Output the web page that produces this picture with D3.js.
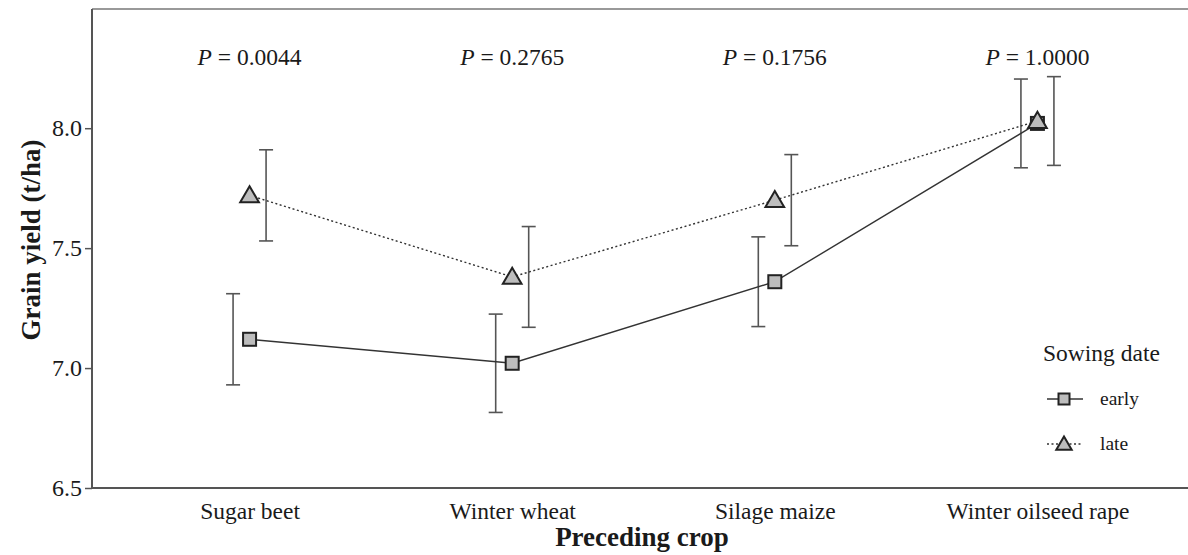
<!DOCTYPE html>
<html>
<head>
<meta charset="utf-8">
<script src="https://cdn.jsdelivr.net/npm/d3@7"></script>
<style>
  body { margin: 0; background: white; }
  svg text { font-family: "Liberation Serif", "DejaVu Serif", serif; fill: #1a1a1a; }
</style>
</head>
<body>
<svg id="chart" width="1188" height="555"></svg>
<script>

// The data:
var crops = ["Sugar beet", "Winter wheat", "Silage maize", "Winter oilseed rape"];
var pValues = ["0.0044", "0.2765", "0.1756", "1.0000"];
var earlyMeans = [7.12, 7.02, 7.36, 8.02];
var earlyErr = [0.19, 0.205, 0.187, 0.185];
var lateMeans = [7.72, 7.38, 7.70, 8.03];
var lateErr = [0.19, 0.21, 0.19, 0.185];
var yTicks = [6.5, 7.0, 7.5, 8.0];

var svg = d3.select("#chart");

var margin = { left: 92, top: 9, bottom: 488, right: 1195 };

var x = d3.scalePoint()
  .domain(crops)
  .range([margin.left, margin.right])
  .padding(0.6);

var y = d3.scaleLinear()
  .domain([6.5, 8.497])
  .range([margin.bottom, margin.top]);

// Both series, the error bars being dodged a little to each side:
var series = [
  { name: "early", means: earlyMeans, err: earlyErr, dodge: -16.5, dash: null, shape: "square" },
  { name: "late", means: lateMeans, err: lateErr, dodge: 16.5, dash: "2,2.5", shape: "triangle" }
];

var lineColor = "#333";
var barColor = "#555";
var fontSize = 23.5;

// Panel frame (left, top and bottom only, the right side is cut off):
svg.append("line")
  .attr("x1", margin.left).attr("x2", 1188)
  .attr("y1", margin.top).attr("y2", margin.top)
  .attr("stroke", "#777").attr("stroke-width", 1.6);

// Y axis with its ticks:
var yAxis = svg.append("g")
  .attr("transform", "translate(" + margin.left + ",0)")
  .call(d3.axisLeft(y).tickValues(yTicks).tickFormat(d3.format(".1f")).tickSize(7).tickSizeOuter(0));
yAxis.select(".domain").remove();
yAxis.selectAll(".tick line").attr("stroke", "#555").attr("stroke-width", 1.5);
yAxis.selectAll(".tick text")
  .attr("x", -10)
  .attr("font-size", 24)
  .attr("font-family", "Liberation Serif")
  .attr("fill", "#333");

svg.append("line")
  .attr("x1", margin.left).attr("x2", margin.left)
  .attr("y1", margin.top).attr("y2", margin.bottom)
  .attr("stroke", "#555").attr("stroke-width", 2);

// X axis: only the base line and the labels, no tick marks
var xAxis = svg.append("g")
  .attr("transform", "translate(0," + margin.bottom + ")")
  .call(d3.axisBottom(x).tickSize(0).tickPadding(14));
xAxis.select(".domain").remove();
xAxis.selectAll(".tick text")
  .attr("font-size", fontSize)
  .attr("font-family", "Liberation Serif")
  .attr("fill", "#1a1a1a");

svg.append("line")
  .attr("x1", margin.left).attr("x2", 1188)
  .attr("y1", margin.bottom).attr("y2", margin.bottom)
  .attr("stroke", "#555").attr("stroke-width", 2);

// Axis titles:
svg.append("text")
  .attr("transform", "translate(40,240) rotate(-90)")
  .attr("text-anchor", "middle")
  .attr("font-size", 27)
  .attr("font-weight", "bold")
  .text("Grain yield (t/ha)");

svg.append("text")
  .attr("x", 642)
  .attr("y", 546)
  .attr("text-anchor", "middle")
  .attr("font-size", 27)
  .attr("font-weight", "bold")
  .text("Preceding crop");

// P values above each crop:
var pText = svg.selectAll("p_label")
  .data(crops)
  .enter().append("text")
  .attr("x", function(d) { return x(d); })
  .attr("y", 65)
  .attr("text-anchor", "middle")
  .attr("font-size", fontSize);
pText.append("tspan").attr("font-style", "italic").text("P");
pText.append("tspan").text(function(d, i) { return " = " + pValues[i]; });

// Error bars first, the lines and the markers go over them:
series.forEach( function(s) {
  var g = svg.append("g").attr("class", "errbars-" + s.name);
  crops.forEach( function(c, i) {
    var cx = x(c) + s.dodge;
    var lo = y(s.means[i] - s.err[i]);
    var hi = y(s.means[i] + s.err[i]);
    g.append("line")
      .attr("x1", cx).attr("x2", cx).attr("y1", lo).attr("y2", hi)
      .attr("stroke", barColor).attr("stroke-width", 1.6);
    [lo, hi].forEach( function(yy) {
      g.append("line")
        .attr("x1", cx - 7).attr("x2", cx + 7).attr("y1", yy).attr("y2", yy)
        .attr("stroke", barColor).attr("stroke-width", 1.6);
    });
  });
});

var line = d3.line()
  .x( function(d) { return x(d.crop); })
  .y( function(d) { return y(d.value); });

series.forEach( function(s) {
  var pts = crops.map( function(c, i) { return { crop: c, value: s.means[i] }; });
  svg.append("path")
    .datum(pts)
    .attr("d", line)
    .attr("fill", "none")
    .attr("stroke", lineColor)
    .attr("stroke-width", 1.4)
    .attr("stroke-dasharray", s.dash);
});

/** Draws one marker, square or triangle, at (cx, cy). */
function drawMarker(parent, shape, cx, cy, size) {
  if (shape == "square") {
    parent.append("rect")
      .attr("x", cx - size / 2).attr("y", cy - size / 2)
      .attr("width", size).attr("height", size)
      .attr("fill", "#bdbdbd").attr("stroke", "#222").attr("stroke-width", 2);
  } else {
    var h = size * 0.9;
    var w = size * 1.1;
    parent.append("path")
      .attr("d", "M" + cx + "," + (cy - h * 0.6) +
                 "L" + (cx + w / 2) + "," + (cy + h * 0.45) +
                 "L" + (cx - w / 2) + "," + (cy + h * 0.45) + "Z")
      .attr("fill", "#bdbdbd").attr("stroke", "#222").attr("stroke-width", 2)
      .attr("stroke-linejoin", "miter");
  }
}

// The triangles are drawn after the squares, they sit on top at the last crop:
series.forEach( function(s) {
  crops.forEach( function(c, i) {
    drawMarker(svg, s.shape, x(c), y(s.means[i]), s.shape == "square" ? 13 : 17);
  });
});

// Legend:
var legend = svg.append("g").attr("transform", "translate(1043,0)");
legend.append("text")
  .attr("x", 0).attr("y", 361)
  .attr("font-size", fontSize)
  .text("Sowing date");

series.forEach( function(s, i) {
  var ly = 399 + i * 45;
  legend.append("line")
    .attr("x1", 4).attr("x2", 40).attr("y1", ly).attr("y2", ly)
    .attr("stroke", lineColor).attr("stroke-width", 1.4)
    .attr("stroke-dasharray", s.dash);
  drawMarker(legend, s.shape, 21, ly, s.shape == "square" ? 11 : 14);
  legend.append("text")
    .attr("x", 57).attr("y", ly + 6)
    .attr("font-size", 19.5)
    .text(s.name);
});

</script>
</body>
</html>
